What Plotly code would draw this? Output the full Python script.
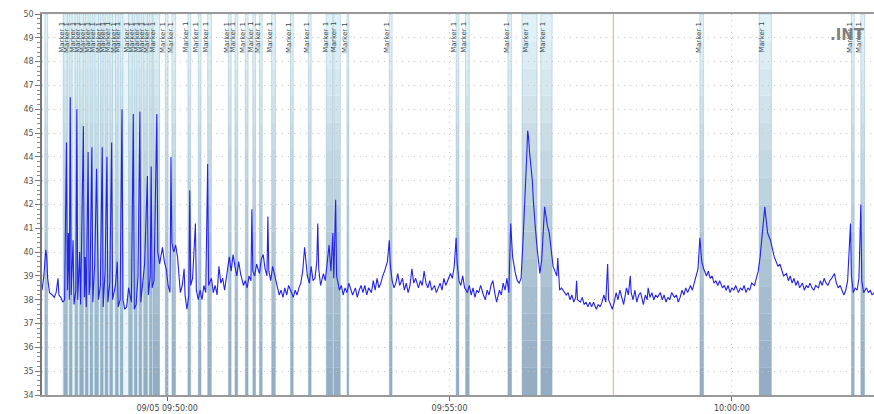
import plotly.graph_objects as go
import pandas as pd

# ---------------- data ----------------
BASE = pd.Timestamp("2024-09-05 09:47:47")

# seconds after 09:47:47
sec = [0, 2, 4, 5, 6, 8, 11, 13, 15, 17, 18, 20, 22, 24, 26, 27, 28, 29, 30, 31,
       33, 34, 36, 37, 38, 40, 41, 44, 45, 46, 47, 49, 50, 51, 53, 54, 56, 58, 60, 62,
       64, 65, 67, 69, 70, 72, 74, 75, 78, 80, 81, 83, 85, 86, 88, 90, 92, 95, 97, 98,
       100, 102, 104, 105, 107, 109, 112, 113, 115, 116, 117, 119, 122, 123, 125, 128, 130, 132, 134, 136,
       137, 138, 140, 142, 144, 147, 149, 151, 152, 154, 156, 157, 158, 160, 163, 164, 166, 168, 170, 172,
       174, 176, 177, 180, 182, 184, 186, 188, 190, 192, 194, 197, 199, 201, 203, 205, 207, 209, 211, 214,
       216, 218, 220, 222, 223, 224, 226, 228, 231, 233, 235, 237, 239, 240, 241, 243, 245, 248, 250, 252,
       254, 256, 258, 260, 262, 265, 267, 269, 271, 273, 275, 277, 279, 282, 284, 286, 288, 290, 292, 293,
       294, 296, 299, 301, 303, 305, 307, 309, 310, 312, 313, 316, 318, 320, 322, 324, 326, 328, 330, 333,
       335, 337, 339, 341, 343, 345, 347, 350, 352, 354, 356, 358, 360, 362, 364, 367, 369, 370, 372, 374,
       376, 378, 380, 383, 385, 387, 389, 391, 393, 395, 397, 400, 402, 404, 406, 408, 410, 412, 414, 417,
       419, 421, 423, 425, 427, 429, 431, 434, 436, 438, 440, 441, 443, 445, 447, 449, 452, 454, 456, 458,
       460, 462, 464, 466, 469, 471, 473, 475, 477, 479, 481, 483, 486, 488, 490, 492, 494, 496, 498, 500,
       503, 505, 507, 509, 511, 513, 515, 516, 517, 518, 520, 521, 522, 523, 524, 526, 528, 529, 531, 533,
       534, 537, 539, 541, 543, 545, 547, 548, 550, 552, 555, 557, 559, 561, 563, 565, 567, 568, 569, 572,
       574, 576, 578, 580, 582, 584, 586, 589, 591, 593, 595, 597, 599, 601, 602, 605, 606, 608, 610, 612,
       614, 616, 618, 621, 623, 625, 626, 628, 630, 632, 634, 636, 639, 641, 643, 644, 646, 648, 650, 652,
       654, 657, 659, 661, 663, 665, 667, 669, 672, 674, 676, 678, 680, 682, 684, 686, 689, 691, 693, 695,
       697, 699, 700, 701, 703, 706, 708, 710, 712, 714, 716, 718, 720, 723, 725, 727, 729, 731, 733, 735,
       737, 740, 742, 744, 746, 748, 750, 752, 754, 757, 759, 761, 763, 765, 767, 768, 769, 770, 771, 774,
       776, 778, 780, 782, 784, 786, 788, 791, 793, 795, 797, 799, 801, 803, 805, 808, 810, 812, 814, 816,
       818, 820, 822, 825, 827, 829, 831, 833, 835, 837, 839, 842, 844, 846, 848, 850, 852, 854, 856, 859,
       860, 862, 864, 866, 868, 870, 871, 873, 876, 878, 880, 882, 884]

temp = [38.4, 39.0, 40.1, 39.8, 38.9, 38.3, 38.2, 38.1, 38.3, 38.9, 38.2, 38.1, 37.9, 38.0, 44.6, 38.4, 40.8, 38.0, 46.5, 38.2,
        40.5, 37.8, 38.4, 46.0, 38.0, 40.0, 37.8, 45.3, 38.1, 39.8, 37.7, 44.2, 38.2, 38.6, 44.4, 37.9, 39.5, 43.5, 38.0, 38.6,
        44.4, 37.7, 39.2, 44.0, 37.9, 38.7, 44.6, 38.0, 38.6, 39.6, 37.7, 38.0, 46.0, 38.0, 37.6, 37.7, 38.5, 37.9, 45.8, 37.6,
        37.8, 39.0, 45.9, 37.9, 38.7, 39.5, 43.2, 38.2, 39.0, 43.6, 38.5, 38.8, 45.8, 40.0, 39.5, 40.2, 39.6, 39.3, 38.6, 38.3,
        44.0, 40.4, 40.0, 40.3, 39.8, 38.3, 38.6, 39.3, 38.2, 37.6, 38.2, 42.6, 38.6, 38.9, 41.2, 38.4, 38.0, 38.4, 38.0, 38.6,
        38.3, 43.7, 38.6, 38.9, 38.3, 38.6, 38.2, 39.4, 38.7, 38.9, 38.4, 39.3, 39.8, 39.2, 39.9, 39.4, 39.0, 39.6, 39.1, 38.6,
        38.8, 38.5, 39.0, 38.8, 41.8, 39.2, 39.0, 39.5, 39.1, 39.7, 39.9, 39.3, 39.0, 41.5, 39.2, 38.8, 39.4, 38.9, 38.6, 38.2,
        38.4, 38.1, 38.5, 38.2, 38.6, 38.3, 38.1, 38.4, 38.2, 38.5, 38.7, 39.2, 40.2, 39.0, 38.7, 39.4, 38.8, 38.9, 39.6, 41.2,
        39.3, 38.6, 39.1, 38.8, 39.5, 40.3, 39.2, 40.8, 38.9, 42.2, 39.0, 38.4, 38.6, 38.2, 38.5, 38.3, 38.7, 38.4, 38.2, 38.5,
        38.1, 38.4, 38.6, 38.3, 38.6, 38.2, 38.5, 38.3, 38.8, 38.4, 38.9, 38.5, 38.7, 39.0, 39.2, 39.6, 40.5, 39.5, 38.8, 38.5,
        38.7, 39.1, 38.6, 38.9, 38.4, 38.7, 38.3, 38.6, 39.3, 38.7, 38.9, 38.5, 38.8, 38.6, 39.2, 38.7, 38.5, 38.8, 38.4, 38.6,
        38.3, 38.5, 38.7, 38.4, 38.9, 38.6, 38.8, 39.1, 38.9, 39.4, 40.6, 39.6, 38.8, 38.6, 39.0, 38.5, 38.3, 38.6, 38.2, 38.5,
        38.1, 38.4, 38.3, 38.6, 38.2, 38.0, 38.4, 38.2, 38.6, 38.8, 38.3, 37.9, 38.4, 38.2, 38.7, 38.4, 38.9, 38.3, 41.2, 39.8,
        39.1, 38.8, 38.7, 38.9, 40.4, 42.0, 44.0, 45.1, 44.8, 44.2, 43.4, 43.0, 42.2, 41.8, 41.1, 40.2, 39.5, 39.1, 39.7, 41.2,
        41.9, 41.1, 40.8, 40.1, 39.4, 39.2, 39.0, 39.75, 38.4, 38.5, 38.3, 38.2, 38.3, 38.0, 38.2, 37.9, 38.1, 38.8, 38.0, 37.9,
        38.1, 37.8, 37.9, 37.7, 37.9, 37.7, 37.9, 37.6, 37.8, 37.7, 37.9, 38.2, 37.9, 39.5, 38.0, 37.7, 37.6, 37.9, 38.3, 38.0,
        38.4, 38.1, 37.8, 38.5, 38.2, 39.0, 38.3, 38.0, 38.4, 37.9, 38.2, 38.3, 37.8, 38.2, 38.0, 38.5, 38.1, 38.3, 38.0, 38.2,
        38.1, 38.3, 38.0, 38.2, 37.9, 38.1, 38.0, 38.3, 38.1, 38.2, 37.9, 38.1, 38.4, 38.2, 38.5, 38.3, 38.6, 38.4, 38.7, 38.9,
        39.3, 40.6, 40.2, 39.6, 39.3, 39.0, 39.2, 38.9, 39.0, 38.7, 38.8, 38.6, 38.8, 38.5, 38.6, 38.4, 38.6, 38.3, 38.5, 38.4,
        38.6, 38.3, 38.5, 38.4, 38.6, 38.3, 38.5, 38.4, 38.7, 38.6, 38.9, 39.2, 39.8, 40.6, 41.4, 41.9, 41.5, 41.2, 40.8, 40.5,
        40.1, 39.8, 39.6, 39.4, 39.5, 39.2, 39.0, 39.1, 38.8, 39.0, 38.7, 38.9, 38.6, 38.8, 38.5, 38.7, 38.4, 38.6, 38.5, 38.7,
        38.5, 38.4, 38.6, 38.5, 38.8, 38.6, 38.9, 38.7, 38.6, 38.8, 38.9, 39.1, 38.7, 38.5, 38.6, 38.4, 38.2, 38.4, 38.8, 41.2,
        39.0, 38.3, 38.5, 38.4, 38.9, 42.0, 38.8, 38.3, 38.5, 38.3, 38.4, 38.2, 38.3]

# marker bands (seconds after 09:47:47)
band_start = [3, 23, 29, 35, 40, 46, 51, 56, 62, 67, 72, 78, 83, 92, 98, 103, 108, 114, 118,
              131, 138, 155, 166, 176, 198, 205, 216, 224, 231, 244, 264, 283, 302, 310, 324,
              369, 440, 450, 495, 510, 530, 699, 762, 860, 870]
band_end = [6, 27, 32, 38, 44, 49, 54, 60, 65, 70, 75, 81, 86, 96, 101, 106, 112, 117, 125,
            134, 142, 158, 169, 180, 201, 208, 219, 227, 234, 248, 267, 286, 309, 317, 326,
            372, 443, 454, 499, 526, 542, 703, 775, 863, 874]
band_label = [""] + ["Marker 1"] * (len(band_start) - 1)
wash_start, wash_end = 21, 125
red_marker = 607
x_end = 884

tick_times = ["2024-09-05 09:50:00", "2024-09-05 09:55:00", "2024-09-05 10:00:00"]
tick_text = ["09/05 09:50:00", "09:55:00", "10:00:00"]
y_min, y_max = 34, 50

# ---------------- figure ----------------
def ts(s):
    return BASE + pd.Timedelta(seconds=s)

times = [ts(s) for s in sec]

fig = go.Figure()
fig.add_trace(go.Scatter(x=times, y=temp, mode="lines",
                         line=dict(color="rgb(35,35,235)", width=1.1),
                         hoverinfo="skip", showlegend=False))

shapes = []
shapes.append(dict(type="rect", xref="x", yref="paper", x0=ts(wash_start), x1=ts(wash_end),
                   y0=0, y1=1, fillcolor="rgba(215,238,244,0.55)", line=dict(width=0),
                   layer="between"))
N = 14
top = (224, 244, 249)
bot = (128, 156, 183)
for s0, s1 in zip(band_start, band_end):
    for i in range(N):
        f = (i + 0.5) / N
        c = tuple(int(bot[k] + (top[k] - bot[k]) * f) for k in range(3))
        shapes.append(dict(type="rect", xref="x", yref="paper", x0=ts(s0), x1=ts(s1),
                           y0=i / N, y1=(i + 1) / N,
                           fillcolor="rgba(%d,%d,%d,0.85)" % c, line=dict(width=0),
                           layer="between"))
    shapes.append(dict(type="rect", xref="x", yref="paper", x0=ts(s0), x1=ts(s1),
                       y0=0, y1=1, fillcolor="rgba(0,0,0,0)",
                       line=dict(width=0.7, color="rgba(120,170,195,0.5)"), layer="between"))
shapes.append(dict(type="line", xref="x", yref="paper", x0=ts(red_marker), x1=ts(red_marker),
                   y0=0, y1=1, line=dict(color="rgb(245,160,140)", width=1), layer="between"))

annotations = []
for s0, s1, lab in zip(band_start, band_end, band_label):
    if not lab:
        continue
    annotations.append(dict(x=ts((s0 + s1) / 2), y=0.985, xref="x", yref="paper",
                            text=lab, textangle=-90, showarrow=False, xshift=-3,
                            yanchor="top", xanchor="center",
                            font=dict(size=7, color="#3a4a50", family="DejaVu Sans")))
annotations.append(dict(x=(828 - 42) / (874 - 42), y=0.975, xref="x domain", yref="paper",
                        text="<b>.INT</b>", showarrow=False, xanchor="left", yanchor="top",
                        font=dict(size=15, color="#808080", family="DejaVu Sans")))

fig.update_layout(
    width=874, height=414,
    margin=dict(l=42, r=0, t=14, b=19),
    paper_bgcolor="white", plot_bgcolor="white",
    shapes=shapes, annotations=annotations,
    showlegend=False,
)
fig.update_xaxes(
    type="date", range=[ts(0), ts(x_end)],
    tickvals=[pd.Timestamp(t) for t in tick_times], ticktext=tick_text,
    showgrid=True, gridcolor="#c4c4c4", griddash="1px,5px", gridwidth=1,
    showline=True, linecolor="#999999", linewidth=2, mirror=True,
    ticks="outside", ticklen=4, tickcolor="#666",
    tickfont=dict(size=8, color="#444", family="DejaVu Sans"),
    zeroline=False,
)
fig.update_yaxes(
    range=[y_min, y_max], dtick=1, tick0=34,
    showgrid=True, gridcolor="#c4c4c4", griddash="1px,5px", gridwidth=1,
    showline=True, linecolor="#777777", linewidth=1.5,
    ticks="outside", ticklen=5, tickcolor="#777",
    minor=dict(ticks="outside", ticklen=3, dtick=0.2, tickcolor="#888", showgrid=False),
    tickfont=dict(size=8, color="#555", family="DejaVu Sans"),
    zeroline=False,
)

fig.write_html("out.html")
